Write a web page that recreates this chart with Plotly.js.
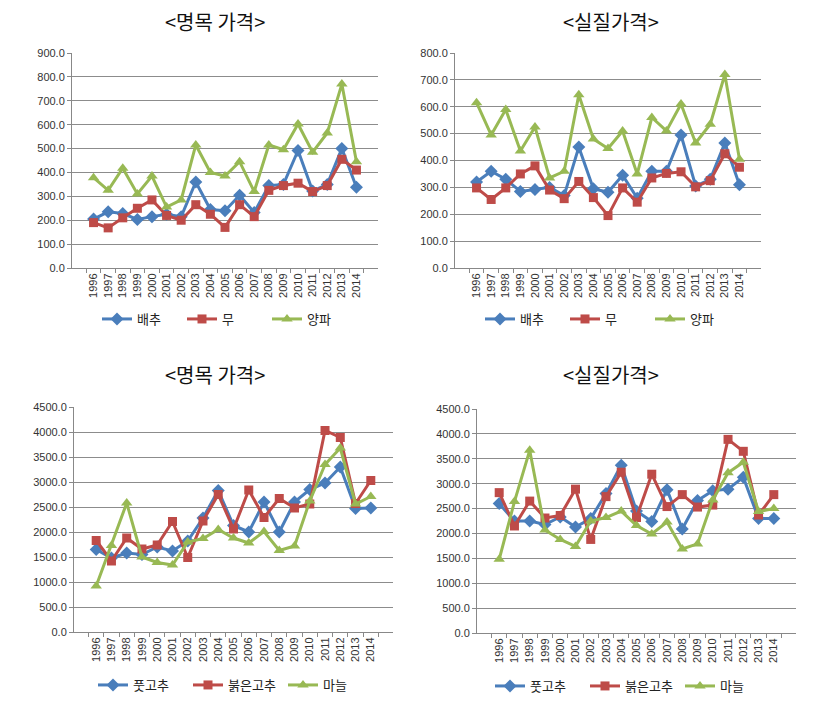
<!DOCTYPE html>
<html><head><meta charset="utf-8">
<script src="https://cdn.plot.ly/plotly-3.0.1.min.js"></script>
<style>html,body{margin:0;padding:0;background:#fff}#chart{width:828px;height:706px}</style>
</head><body><div id="chart"></div>
<script>
const years = ['1996','1997','1998','1999','2000','2001','2002','2003','2004','2005','2006','2007','2008','2009','2010','2011','2012','2013','2014'];

// Top-left: nominal price (명목 가격)
const nomCabbage = [205,235,228,203,215,225,215,360,245,240,305,232,345,350,492,322,350,500,338];
const nomRadish  = [190,168,210,250,285,220,200,265,225,170,265,215,325,345,355,320,345,455,410];
const nomOnion   = [378,325,418,310,385,255,285,515,400,385,445,320,515,495,603,485,565,770,445];

// Top-right: real price (실질가격)
const realCabbage = [320,360,330,285,292,300,270,450,295,282,345,260,360,360,495,305,330,465,310];
const realRadish  = [298,255,298,350,380,290,258,322,262,195,298,245,335,352,358,302,325,425,375];
const realOnion   = [615,495,590,435,525,335,360,645,480,445,510,350,560,510,610,465,535,720,405];

// Bottom-left: nominal price
const nomGreenPepper = [1650,1480,1580,1550,1700,1620,1820,2280,2830,2130,2000,2600,2000,2600,2850,2980,3300,2470,2480];
const nomRedPepper   = [1830,1420,1880,1660,1740,2210,1490,2220,2750,2060,2840,2290,2670,2480,2560,4030,3890,2570,3030];
const nomGarlic      = [920,1730,2580,1500,1390,1340,1800,1870,2050,1880,1780,2010,1630,1720,2620,3350,3680,2560,2710];

// Bottom-right: real price
const realGreenPepper = [2600,2250,2250,2180,2330,2130,2300,2800,3370,2450,2240,2880,2090,2660,2860,2890,3130,2300,2300];
const realRedPepper   = [2820,2150,2650,2310,2360,2890,1880,2740,3230,2320,3190,2540,2780,2530,2570,3890,3650,2370,2780];
const realGarlic      = [1480,2640,3670,2070,1880,1740,2250,2320,2450,2160,1990,2230,1690,1790,2670,3220,3430,2440,2500];

const names1 = ['배추','무','양파'];
const names2 = ['풋고추','붉은고추','마늘'];
const titles = ['<명목 가격>','<실질가격>','<명목 가격>','<실질가격>'];

const BLUE='#4a7ebb', RED='#be4b48', GREEN='#98b954';
const styles = [
  {color:BLUE, symbol:'diamond', size:10},
  {color:RED, symbol:'square', size:9},
  {color:GREEN, symbol:'triangle-up', size:10}
];

const panels = [
  {series:[nomCabbage,nomRadish,nomOnion], names:names1},
  {series:[realCabbage,realRadish,realOnion], names:names1},
  {series:[nomGreenPepper,nomRedPepper,nomGarlic], names:names2},
  {series:[realGreenPepper,realRedPepper,realGarlic], names:names2}
];

const traces = [];
panels.forEach((p,i)=>{
  const ax = i===0?'':String(i+1);
  p.series.forEach((s,j)=>{
    traces.push({
      x: years, y: s, name: p.names[j], type:'scatter', mode:'lines+markers',
      xaxis:'x'+ax, yaxis:'y'+ax,
      legend: i===0?'legend':'legend'+(i+1),
      line:{color:styles[j].color, width:3},
      marker:{color:styles[j].color, symbol:styles[j].symbol, size:styles[j].size},
      hoverinfo:'x+y+name'
    });
  });
});

const W=828,H=706;
const boxes = [
  {x0:72,x1:378,y0:53,y1:268, max:900, dt:100},
  {x0:455,x1:761,y0:53,y1:268, max:800, dt:100},
  {x0:74,x1:393,y0:407,y1:632, max:4500, dt:500},
  {x0:477,x1:796,y0:409,y1:633, max:4500, dt:500}
];
const titlePos = [[215,21],[611,21],[215,374],[611,374]];
const legendPos = [[97,319],[480,319],[93,685],[490,686]];
const entryW = [40,40,50,50];

const layout = {
  width:W, height:H, margin:{l:0,r:0,t:0,b:0,autoexpand:false},
  paper_bgcolor:'#fff', plot_bgcolor:'#fff',
  font:{family:'"Noto Sans CJK KR", "Liberation Sans", sans-serif', color:'#333'},
  annotations:[], showlegend:true
};
boxes.forEach((b,i)=>{
  const ax = i===0?'':String(i+1);
  layout['xaxis'+ax] = {
    domain:[b.x0/W, b.x1/W], anchor:'y'+ax, type:'category',
    tickangle:-90, tickfont:{size:11, family:'"Liberation Sans", Arial, sans-serif', color:'#333'},
    showline:true, linecolor:'#888', linewidth:1,
    ticks:'outside', ticklen:4, tickcolor:'#888', tickson:'boundaries',
    showgrid:false, zeroline:false, fixedrange:true, automargin:false
  };
  layout['yaxis'+ax] = {
    domain:[1-b.y1/H, 1-b.y0/H], anchor:'x'+ax,
    range:[0,b.max], dtick:b.dt, tick0:0, tickformat:'.1f',
    tickfont:{size:11, family:'"Liberation Sans", Arial, sans-serif', color:'#333'},
    showline:true, linecolor:'#888', linewidth:1,
    ticks:'outside', ticklen:4, tickcolor:'#888',
    showgrid:true, gridcolor:'#8c8c8c', gridwidth:1, zeroline:false, fixedrange:true, automargin:false
  };
  layout.annotations.push({
    text:titles[i], x:titlePos[i][0]/W, y:1-titlePos[i][1]/H, xref:'paper', yref:'paper',
    xanchor:'center', yanchor:'middle', showarrow:false,
    font:{size:20, color:'#111', family:'"Noto Sans CJK KR", sans-serif'}
  });
  layout[i===0?'legend':'legend'+(i+1)] = {
    orientation:'h', x:legendPos[i][0]/W, y:1-legendPos[i][1]/H,
    xanchor:'left', yanchor:'middle', bgcolor:'rgba(0,0,0,0)',
    font:{size:13, color:'#222'}, entrywidth:entryW[i], itemwidth:30,
    tracegroupgap:0
  };
});

Plotly.newPlot('chart', traces, layout, {displayModeBar:false, staticPlot:true});
</script>
</body></html>
